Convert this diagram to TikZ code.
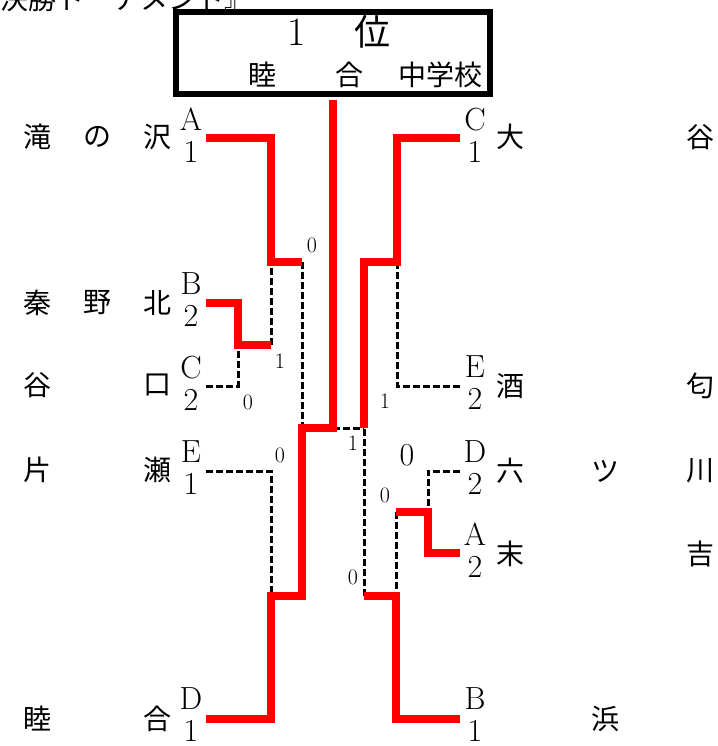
\documentclass[tikz,border=0pt]{standalone}
\usepackage{fontspec}
\newfontfamily\jp{Noto Sans CJK JP}
\tikzset{
  win/.style={draw=red,line width=8pt},
  lose/.style={draw=black,line width=3pt,dash pattern=on 7pt off 3pt},
  team/.style={font=\jp\fontsize{28}{28}\selectfont,inner sep=0pt},
  seed/.style={font=\fontsize{32}{32}\selectfont,align=center,inner sep=0pt,minimum width=30pt},
  score/.style={font=\fontsize{22}{22}\selectfont,inner sep=0pt},
}
\begin{document}
\begin{tikzpicture}[x=1pt,y=-1pt]
\useasboundingbox (0,0) rectangle (717,746);

% title, cut at the top of the page
\node[team,anchor=west] (title) at (0,-1) {決勝トーナメント』};

% champion box
\node[draw,line width=6pt,minimum width=314pt,minimum height=82pt,inner sep=0pt] (champ) at (333,53) {};
\node[font=\fontsize{40}{40}\selectfont,inner sep=0pt] (rank) at (297,32) {1};
\node[font=\jp\fontsize{36}{36}\selectfont,inner sep=0pt] (rankc) at (372,32) {位};
\node[team] (w1) at (262,75) {睦};
\node[team] (w2) at (349,75) {合};
\node[team] (w3) at (440,75) {中学校};

% seeds, left
\node[seed] (sLA) at (191,135) {A\\1};
\node[seed] (sLB) at (191,300) {B\\2};
\node[seed] (sLC) at (191,383) {C\\2};
\node[seed] (sLE) at (191,468) {E\\1};
\node[seed] (sLD) at (191,715) {D\\1};
% seeds, right
\node[seed] (sRC) at (475,135) {C\\1};
\node[seed] (sRE) at (475,383) {E\\2};
\node[seed] (sRD) at (475,468) {D\\2};
\node[seed] (sRA) at (475,550) {A\\2};
\node[seed] (sRB) at (475,715) {B\\1};

% team names
\foreach \c/\x/\y [count=\i] in {滝/37/137,の/97/137,沢/157/137,秦/37/303,野/97/303,北/157/303,
    谷/37/385,口/157/385,片/37/470,瀬/157/470,睦/37/719,合/157/719}
  \node[team] (nL\i) at (\x,\y) {\c};
\foreach \c/\x/\y [count=\i] in {大/510/137,谷/700/137,酒/510/386,匂/700/386,六/510/471,ツ/605/471,川/700/471,
    末/510/554,吉/700/554,浜/605/719}
  \node[team] (nR\i) at (\x,\y) {\c};

% joints
\coordinate (j1) at (271,262);
\coordinate (j1e) at (302,262);
\coordinate (j2) at (238,345);
\coordinate (j2e) at (271,345);
\coordinate (j3) at (271,596);
\coordinate (j3e) at (302,596);
\coordinate (j4) at (302,428);
\coordinate (j4e) at (333,428);
\coordinate (k1) at (397,262);
\coordinate (k1e) at (364,262);
\coordinate (k2) at (428,512);
\coordinate (k2e) at (396,512);
\coordinate (k3) at (396,596);
\coordinate (k3e) at (364,596);
\coordinate (k4) at (364,428);

% lost games
\draw[lose] ([yshift=-3pt]sLC.east) -| (j2);
\draw[lose] (j2e) -- (j1);
\draw[lose] (j1e) -- (j4);
\draw[lose] ([yshift=-3pt]sLE.east) -| (j3);
\draw[lose] (j4e) -- (k4);
\draw[lose] ([yshift=-3pt]sRE.west) -| (k1);
\draw[lose] ([yshift=-3pt]sRD.west) -| (k2);
\draw[lose] (k2e) -- (k3);
\draw[lose] (k3e) -- (k4);

% won games
\draw[win] ([yshift=-3pt]sLA.east) -| (j1) -- (j1e);
\draw[win] ([yshift=-3pt]sLB.east) -| (j2) -- (j2e);
\draw[win] ([yshift=-4pt]sLD.east) -| (j3) -- (j3e) -- (j4) -- (j4e) -- ([yshift=-3pt]champ.south);
\draw[win] ([yshift=-3pt]sRC.west) -| (k1) -- (k1e) -- (k4);
\draw[win] ([yshift=-3pt]sRA.west) -| (k2) -- (k2e);
\draw[win] ([yshift=-4pt]sRB.west) -| (k3) -- (k3e);

% scores
\node[score] (p1) at (312,245) {0};
\node[score] (p2) at (280,361) {1};
\node[score] (p3) at (248,402) {0};
\node[score] (p4) at (280,455) {0};
\node[score] (p5) at (353,443) {1};
\node[score] (p6) at (353,577) {0};
\node[score] (p7) at (385,401) {1};
\node[seed] (p8) at (407,455) {0};
\node[score] (p9) at (385,495) {0};
\end{tikzpicture}
\end{document}
